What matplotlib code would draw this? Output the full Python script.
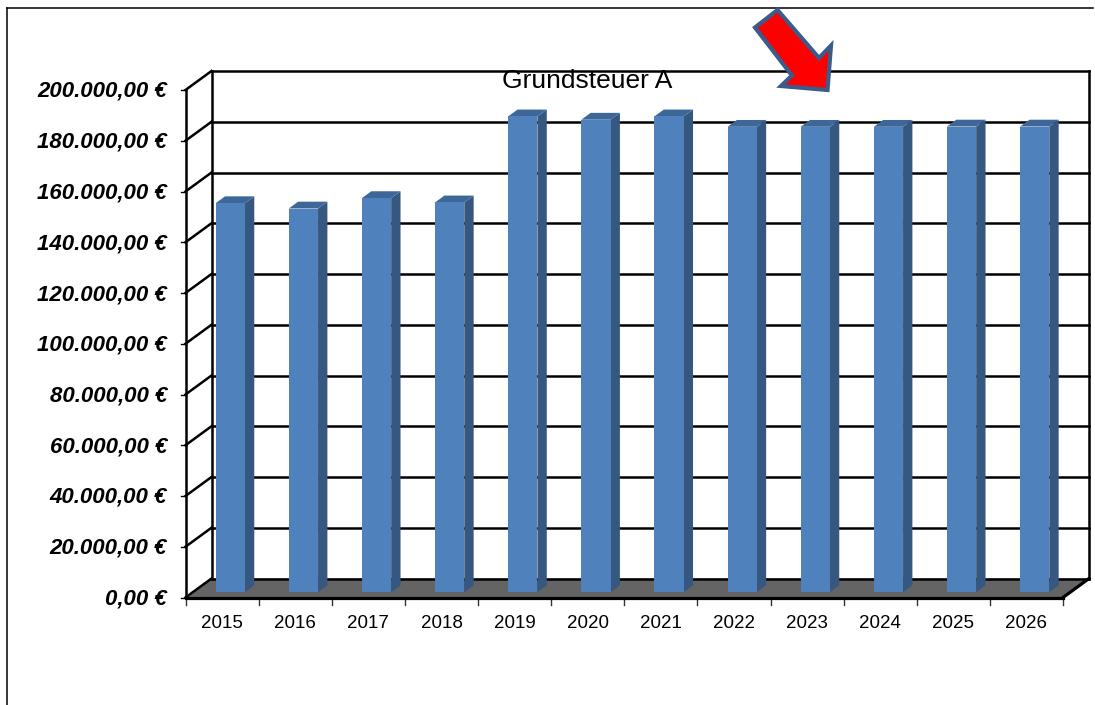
import matplotlib
matplotlib.use("Agg")
import matplotlib.pyplot as plt
from matplotlib.patches import Polygon
from matplotlib.transforms import offset_copy

# ---- data -------------------------------------------------------------
years = ['2015', '2016', '2017', '2018', '2019', '2020',
         '2021', '2022', '2023', '2024', '2025', '2026']
values = [153300, 151200, 155300, 153600, 187500, 186200,
          187500, 183400, 183400, 183400, 183500, 183500]
y_ticks = [0, 20000, 40000, 60000, 80000, 100000,
           120000, 140000, 160000, 180000, 200000]
title = 'Grundsteuer A'


def euro(v):
    s = f"{v:,.2f}".replace(',', 'X').replace('.', ',').replace('X', '.')
    return f"{s} €"


# ---- figure / coordinate frame ----------------------------------------
W, H = 1095, 705
fig = plt.figure(figsize=(W / 100, H / 100), dpi=100)
plt.rcParams['font.family'] = ['Liberation Sans', 'DejaVu Sans']

# front plane of the 3-D box in pixels
X0_PX, X1_PX = 185.5, 1063.0
Y0_PX, YT_PX = 597.5, 90.0
n = len(years)
vmax = y_ticks[-1]
sx = (X1_PX - X0_PX) / n            # px per category
sy = (Y0_PX - YT_PX) / vmax         # px per value unit

ax = fig.add_axes([0, 0, 1, 1])
ax.set_xlim(-X0_PX / sx, (W - X0_PX) / sx)
ax.set_ylim(-(H - Y0_PX) / sy, Y0_PX / sy)
ax.axis('off')

# depth offset of the back wall (oblique projection)
DX = 26 / sx
DY = 19 / sy

LINE = dict(color='black', lw=1.8, solid_capstyle='projecting', zorder=3)

# floor
floor = Polygon([(0, 0), (n, 0), (n + DX, DY), (DX, DY)], closed=True,
                facecolor='#646464', edgecolor='none', zorder=1)
ax.add_patch(floor)

# back wall gridlines and left wall diagonals
for v in y_ticks:
    ax.plot([DX, n + DX], [v + DY, v + DY], **LINE)
    ax.plot([0, DX], [v, v + DY], **LINE)
    ax.plot([-5 / sx, 0], [v, v], color='black', lw=1.0, zorder=3)

# box edges
ax.plot([DX, DX], [DY, vmax + DY], **LINE)
ax.plot([n + DX, n + DX], [DY, vmax + DY], **LINE)
ax.plot([0, 0], [0, vmax], **LINE)
ax.plot([0, n], [0, 0], color='black', lw=2.3, zorder=6)
ax.plot([n, n + DX], [0, DY], color='black', lw=2.3, zorder=6)

# category ticks along the front edge
for i in range(n + 1):
    ax.plot([i, i], [-2 / sy, -7 / sy], color='#333333', lw=1.0, zorder=3)

# bars
bw = 0.40          # front face width (category units)
f0, f1 = 0.28, 0.64  # bar depth range as fraction of box depth
dd = f1 - f0
for i, v in enumerate(values):
    xl = i + 0.5 - bw / 2 + f0 * DX + 0.013
    xr = xl + bw
    b = f0 * DY
    ex, ey = dd * DX, dd * DY
    side = Polygon([(xr, b), (xr + ex, b + ey), (xr + ex, b + ey + v), (xr, b + v)],
                   closed=True, facecolor='#36577F', edgecolor='none', zorder=4)
    top = Polygon([(xl, b + v), (xr, b + v), (xr + ex, b + v + ey), (xl + ex, b + v + ey)],
                  closed=True, facecolor='#3E6799', edgecolor='none', zorder=4)
    front = Polygon([(xl, b), (xr, b), (xr, b + v), (xl, b + v)],
                    closed=True, facecolor='#4F81BD', edgecolor='none', zorder=5)
    for p in (side, top, front):
        ax.add_patch(p)

# value axis labels
ylab_tr = offset_copy(ax.transData, fig=fig, x=0, y=-7, units='dots')
for v in y_ticks:
    ax.text((167 - X0_PX) / sx, v, euro(v), transform=ylab_tr,
            ha='right', va='baseline', fontsize=16,
            fontweight='bold', fontstyle='italic', color='black')

# category labels
for i, yr in enumerate(years):
    ax.text(i + 0.5, (Y0_PX - 628) / sy, yr, ha='center', va='baseline',
            fontsize=13.5, color='black')

# title
ax.text((587 - X0_PX) / sx, (Y0_PX - 88) / sy, title, ha='center',
        va='baseline', fontsize=19, color='black', zorder=7)

# overlay in pixel coordinates: frame lines and the highlight arrow
ov = fig.add_axes([0, 0, 1, 1], facecolor='none')
ov.set_xlim(0, W)
ov.set_ylim(H, 0)
ov.axis('off')
ov.plot([7, 1093], [8, 8], color='black', lw=1.1)
ov.plot([7, 7], [8, H], color='black', lw=1.1)

arrow_pts = [(755.0, 27.5), (777.5, 10.0), (819.0, 58.0), (831.0, 45.5),
             (827.5, 90.0), (781.0, 86.0), (792.0, 75.5)]
ov.add_patch(Polygon(arrow_pts, closed=True, facecolor='#FF0000',
                     edgecolor='#3B5B8A', lw=3.0, joinstyle='miter', zorder=10))

fig.savefig('out.png', dpi=100)
